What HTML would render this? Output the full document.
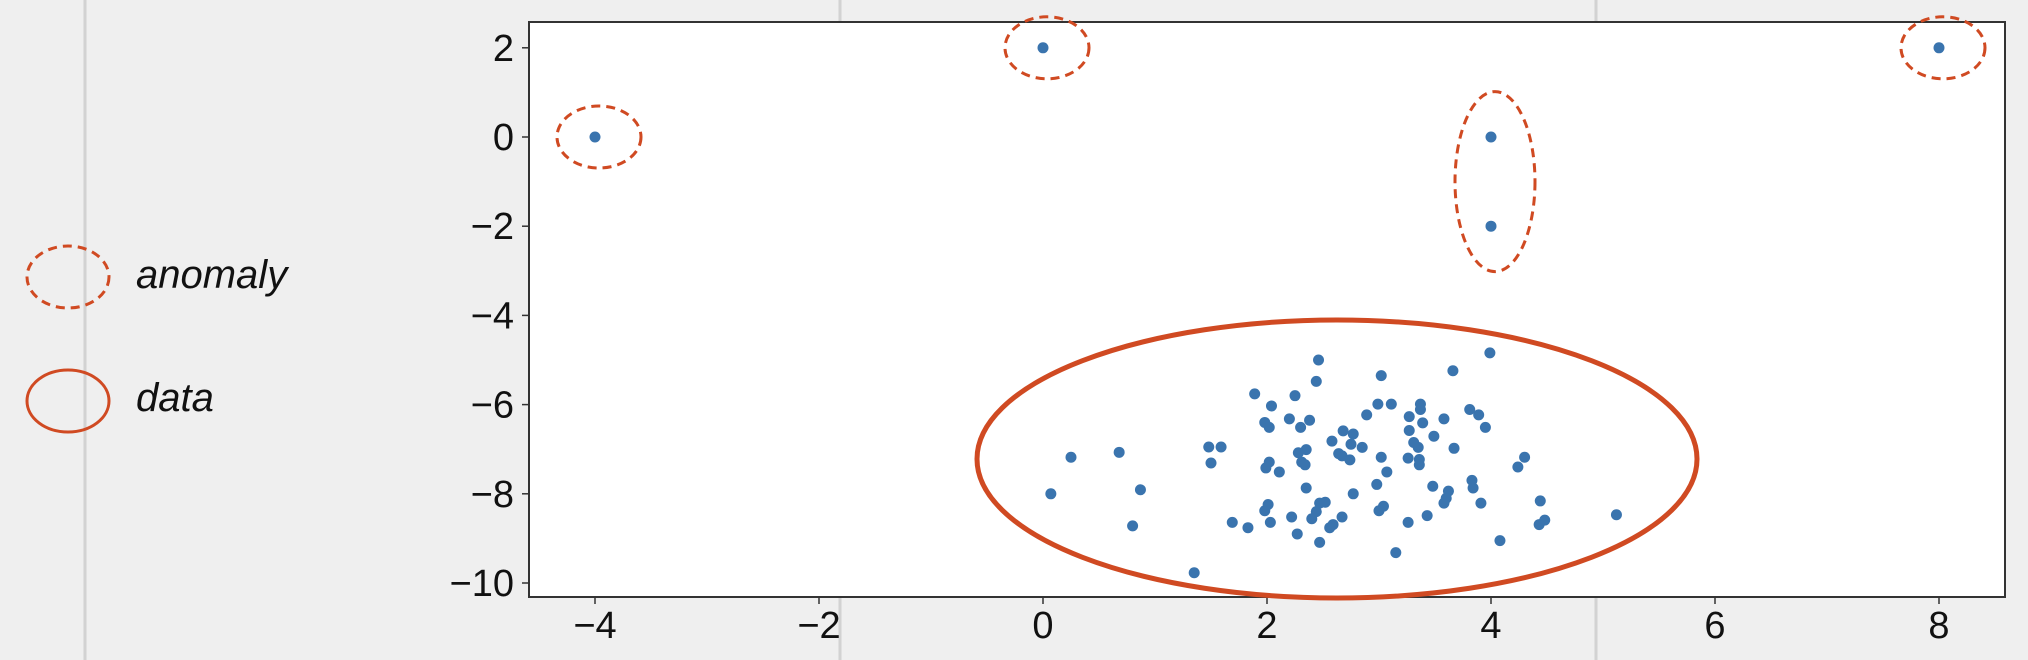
<!DOCTYPE html>
<html><head><meta charset="utf-8"><style>
html,body{margin:0;padding:0;background:#efefef;}
svg{display:block;}
text{font-family:"Liberation Sans","DejaVu Sans",sans-serif;fill:#111;}
</style></head><body>
<svg id="chart" width="2028" height="660" viewBox="0 0 2028 660" xmlns="http://www.w3.org/2000/svg">
<rect x="0" y="0" width="2028" height="660" fill="#efefef"/>
<line x1="85" y1="0" x2="85" y2="660" stroke="#d2d2d2" stroke-width="3"/>
<line x1="840" y1="0" x2="840" y2="660" stroke="#d2d2d2" stroke-width="3"/>
<line x1="1596" y1="0" x2="1596" y2="660" stroke="#d2d2d2" stroke-width="3"/>
<rect x="529" y="22" width="1476" height="575" fill="#fff" stroke="#333" stroke-width="2"/>
<g id="ticks"></g>
<g id="points"></g>
<g id="annot"></g>
<g>
<ellipse cx="68" cy="277" rx="41" ry="31" fill="none" stroke="#d04a22" stroke-width="3" stroke-dasharray="9,6"/>
<text x="136" y="288" font-size="40" font-style="italic">anomaly</text>
<ellipse cx="68" cy="401" rx="41" ry="31" fill="none" stroke="#d04a22" stroke-width="3"/>
<text x="136" y="411" font-size="40" font-style="italic">data</text>
</g>
</svg>
<script>
const xTicks = [-4,-2,0,2,4,6,8];
const yTicks = [2,0,-2,-4,-6,-8,-10];
const anomalyX = [-4,0,8,4,4];
const anomalyY = [0,2,2,0,-2];
const dataX = [2.46,3.99,3.02,3.66,2.44,1.89,2.25,2.04,2.99,3.11,3.37,3.37,3.81,3.89,2.89,3.27,3.58,2.20,2.38,1.98,3.39,2.02,2.30,3.95,3.27,2.68,2.77,3.49,2.58,3.31,2.75,2.85,1.48,1.59,0.68,3.67,3.35,2.35,2.28,2.64,2.67,0.25,3.02,4.30,3.26,3.36,2.74,2.31,2.02,1.50,3.36,2.34,1.99,4.24,2.11,3.07,3.83,2.98,3.84,2.35,3.48,0.87,3.62,0.07,2.77,3.60,4.44,2.52,3.91,2.01,2.47,3.58,3.04,1.98,2.44,3.00,5.12,2.22,3.43,2.67,2.40,4.48,1.69,2.03,3.26,4.43,2.59,0.80,1.83,2.56,2.27,4.08,2.47,3.15,1.35];
const dataY = [-5.0,-4.84,-5.35,-5.24,-5.48,-5.76,-5.80,-6.03,-5.99,-5.99,-5.99,-6.11,-6.11,-6.23,-6.23,-6.27,-6.32,-6.32,-6.35,-6.40,-6.41,-6.51,-6.51,-6.51,-6.58,-6.59,-6.66,-6.71,-6.82,-6.85,-6.89,-6.96,-6.95,-6.95,-7.07,-6.98,-6.96,-7.01,-7.08,-7.10,-7.15,-7.18,-7.18,-7.18,-7.20,-7.23,-7.24,-7.29,-7.29,-7.31,-7.35,-7.35,-7.42,-7.40,-7.51,-7.51,-7.70,-7.79,-7.87,-7.87,-7.83,-7.91,-7.94,-8.0,-8.0,-8.10,-8.16,-8.19,-8.21,-8.24,-8.21,-8.21,-8.28,-8.38,-8.40,-8.38,-8.47,-8.52,-8.49,-8.52,-8.56,-8.59,-8.64,-8.64,-8.64,-8.69,-8.69,-8.72,-8.76,-8.76,-8.90,-9.05,-9.09,-9.32,-9.77];
const xs = v => 1043 + v*112;
const ys = v => 137 - v*44.6;
const NS = "http://www.w3.org/2000/svg";
function mk(tag, attrs, parent){const e=document.createElementNS(NS,tag);for(const k in attrs)e.setAttribute(k,attrs[k]);parent.appendChild(e);return e;}
const tg = document.getElementById('ticks');
xTicks.forEach(t=>{
  const l=mk('line',{x1:xs(t),x2:xs(t),y1:597,y2:604,stroke:'#333','stroke-width':1.5},tg);
  
  
  const tx=mk('text',{x:xs(t),y:638,'text-anchor':'middle','font-size':38},tg);
  tx.textContent=(t<0?'\u2212'+(-t):String(t));
  
  
});
yTicks.forEach(t=>{
  const l=mk('line',{x1:522,x2:529,y1:ys(t),y2:ys(t),stroke:'#333','stroke-width':1.5},tg);
  
  
  const tx=mk('text',{x:514,y:ys(t)+13,'text-anchor':'end','font-size':38},tg);
  tx.textContent=(t<0?'\u2212'+(-t):String(t));
  
  
});
const pg = document.getElementById('points');
dataX.forEach((x,i)=>{
  const c=mk('circle',{cx:xs(x),cy:ys(dataY[i]),r:5.5,fill:'#3a74ae'},pg);
  
  
});
anomalyX.forEach((x,i)=>{
  const c=mk('circle',{cx:xs(x),cy:ys(anomalyY[i]),r:5.5,fill:'#3a74ae'},pg);
  
  
});
const ag = document.getElementById('annot');
const dashed = [[-4,0,42,31],[0,2,42,31],[8,2,42,31],[4,-1,40,90]];
dashed.forEach(d=>{
  const e=mk('ellipse',{cx:xs(d[0])+4,cy:ys(d[1]),rx:d[2],ry:d[3],fill:'none',stroke:'#d04a22','stroke-width':3,'stroke-dasharray':'9,6'},ag);
  
  
});
const de=mk('ellipse',{cx:1337,cy:459,rx:360,ry:139,fill:'none',stroke:'#d04a22','stroke-width':5},ag);


</script>
</body></html>
